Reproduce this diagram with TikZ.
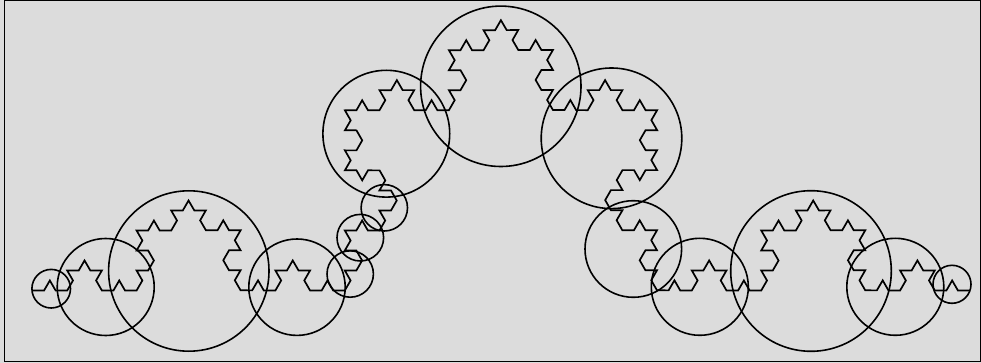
\documentclass[tikz,border=0pt]{standalone}
\usetikzlibrary{decorations.fractals}
\definecolor{bggray}{RGB}{220,220,220}
\begin{document}
\begin{tikzpicture}[x=1pt,y=-1pt,
  ring/.style={draw=black,line width=1.6pt},
  koch/.style={draw=black,line width=1.7pt,decoration=Koch snowflake},
  frame/.style={draw=black,line width=1.4pt}]
\useasboundingbox (0,0) rectangle (981,363);
\fill[bggray] (0,0) rectangle (981,363);
\draw[frame] (4.7,0.8) rectangle (980.3,361.7);
\coordinate (A) at (32.5,290.5);
\coordinate (B) at (969.5,290.5);
\draw[koch] decorate{decorate{decorate{decorate{(A) -- (B)}}}};
\coordinate (c1) at (51.2,288.7);
\coordinate (c2) at (105.7,287);
\coordinate (c3) at (188.8,271);
\coordinate (c4) at (297,287.2);
\coordinate (c5) at (350.2,274);
\coordinate (c6) at (360.3,237.7);
\coordinate (c7) at (384.3,207.8);
\coordinate (c8) at (386.3,133.7);
\coordinate (c9) at (500.8,86.3);
\coordinate (c10) at (611.5,138.3);
\coordinate (c11) at (633.3,249);
\coordinate (c12) at (699.8,286.8);
\coordinate (c13) at (811,271);
\coordinate (c14) at (895.3,286.8);
\coordinate (c15) at (952,284.3);
\draw[ring] (c1) circle (19.3);
\draw[ring] (c2) circle (48.5);
\draw[ring] (c3) circle (80.2);
\draw[ring] (c4) circle (48.2);
\draw[ring] (c5) circle (23.2);
\draw[ring] (c6) circle (23.3);
\draw[ring] (c7) circle (23.2);
\draw[ring] (c8) circle (63.4);
\draw[ring] (c9) circle (80.2);
\draw[ring] (c10) circle (70.3);
\draw[ring] (c11) circle (48.3);
\draw[ring] (c12) circle (48.5);
\draw[ring] (c13) circle (80.3);
\draw[ring] (c14) circle (48.5);
\draw[ring] (c15) circle (19);
\end{tikzpicture}
\end{document}
